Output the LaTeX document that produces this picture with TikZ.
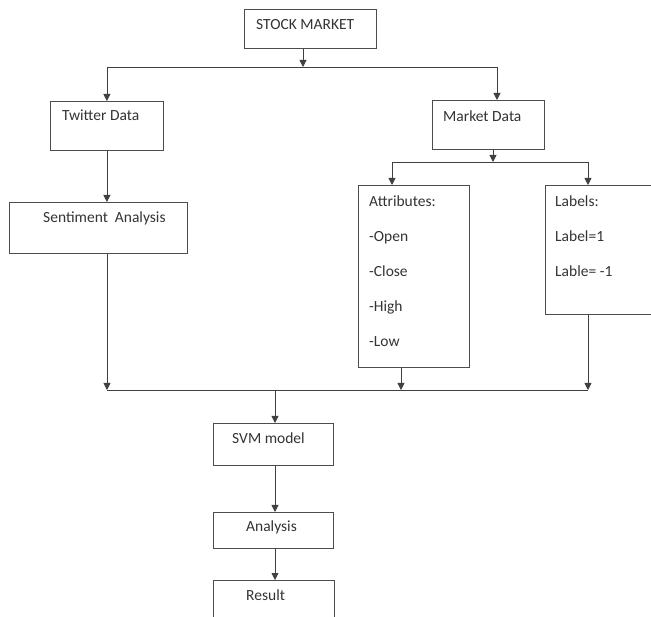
\documentclass[tikz,border=0pt]{standalone}
\usepackage{fontspec}
\setmainfont{Carlito}
\usetikzlibrary{arrows.meta,calc}
\tikzset{
  box/.style={draw=black!70,line width=0.8pt,anchor=north west,inner sep=0pt},
  txt/.style={anchor=base west,inner sep=0pt,text=black!80,font=\fontsize{15.5}{18}\selectfont},
  arr/.style={draw=black!75,line width=0.8pt,-{Triangle[length=7pt,width=7pt]}},
  ln/.style={draw=black!75,line width=0.8pt},
}
\begin{document}
\begin{tikzpicture}[x=1pt,y=-1pt]
  \useasboundingbox (0,0) rectangle (651,617);
  \clip (0,0) rectangle (651,617);
  % boxes
  \node[box,minimum width=132,minimum height=39] (stock) at (244,9) {};
  \node[box,minimum width=113,minimum height=49] (tw) at (50,101) {};
  \node[box,minimum width=178,minimum height=51] (sent) at (9,202) {};
  \node[box,minimum width=112,minimum height=49] (mk) at (432,100) {};
  \node[box,minimum width=111,minimum height=182] (attr) at (358,185) {};
  \node[box,minimum width=110,minimum height=129] (lab) at (545,185) {};
  \node[box,minimum width=120,minimum height=42] (svm) at (213,423) {};
  \node[box,minimum width=120,minimum height=36] (ana) at (213,512) {};
  \node[box,minimum width=121,minimum height=45] (res) at (213,580) {};
  % texts
  \node[txt] (tstock) at (256,30) {STOCK MARKET};
  \node[txt] (ttw) at (62,121) {Twitter Data};
  \node[txt] (tsent) at (43,223) {Sentiment\ \ Analysis};
  \node[txt] (tmk) at (443,122) {Market Data};
  \foreach \t [count=\i from 0] in {Attributes:,-Open,-Close,-High,-Low}
    \node[txt] (tattr\i) at (369,207+35*\i) {\t};
  \foreach \t [count=\i from 0] in {Labels:,Label=1,Lable= -1}
    \node[txt] (tlab\i) at (555,207+35*\i) {\t};
  \node[txt] (tsvm) at (232,444) {SVM model};
  \node[txt] (tana) at (246,532) {Analysis};
  \node[txt] (tres) at (246,600) {Result};
  % junctions
  \coordinate (j1) at (303,67);
  \coordinate (j2) at (493,162);
  \coordinate (j3) at (275,390);
  \coordinate (b1) at (107,390);
  \coordinate (b2) at (401,390);
  \coordinate (b3) at (588,390);
  % connectors
  \draw[arr] (stock.south -| j1) -- (j1);
  \draw[arr] (j1) -| (tw.north);
  \draw[arr] (j1) -| ($(mk.north west)+(65,0)$);
  \draw[arr] (tw.south) -- (tw.south |- sent.north);
  \draw[arr] (mk.south -| j2) -- (j2);
  \draw[arr] (j2) -| ($(attr.north west)+(34,0)$);
  \draw[arr] (j2) -| ($(lab.north west)+(43,0)$);
  \draw[ln] (b1) -- (b3);
  \draw[arr] (sent.south -| b1) -- (b1);
  \draw[arr] (attr.south -| b2) -- (b2);
  \draw[arr] (lab.south -| b3) -- (b3);
  \draw[arr] (j3) -- (j3 |- svm.north);
  \draw[arr] (svm.south -| j3) -- (j3 |- ana.north);
  \draw[arr] (ana.south -| j3) -- (j3 |- res.north);
\end{tikzpicture}
\end{document}
